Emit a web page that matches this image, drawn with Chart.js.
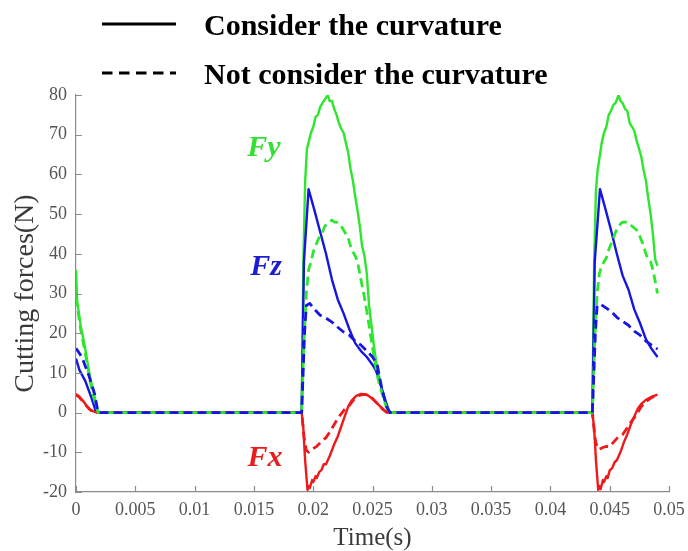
<!DOCTYPE html>
<html>
<head>
<meta charset="utf-8">
<script src="https://cdn.jsdelivr.net/npm/chart.js@4/dist/chart.umd.min.js"></script>
<style>
html,body{margin:0;padding:0;background:#ffffff;}
#c{display:block;}
</style>
</head>
<body>
<canvas id="c" width="688" height="551"></canvas>
<script>
// ---------- data (time in s, force in N) ----------
const xTickLabels = ['0','0.005','0.01','0.015','0.02','0.025','0.03','0.035','0.04','0.045','0.05'];
const yTickLabels = ['-20','-10','0','10','20','30','40','50','60','70','80'];
const seriesNames = ['Consider the curvature', 'Not consider the curvature'];
const forceNames = ['Fy', 'Fz', 'Fx'];

const fyConsider = [[0,36],[0.0001,28],[0.00039,22],[0.00078,16],[0.00118,9],[0.00157,4],[0.00186,0],
 [0.01903,0],[0.01917,38],[0.01932,58],[0.01947,66.5],[0.01961,68],[0.01981,70.5],[0.02001,72],[0.0202,74.5],[0.0204,75],[0.02059,77],[0.02079,78],[0.02123,80],[0.02138,78.5],[0.02158,78.5],[0.02177,76.5],[0.02197,75],[0.02216,73],[0.02236,71.5],[0.02256,70.5],[0.02275,68],[0.02295,65.5],[0.02314,61.5],[0.02334,58.5],[0.02354,54.5],[0.02373,51],[0.02393,47],[0.02412,42],[0.02432,39.5],[0.02452,35],[0.02471,27],[0.02491,22],[0.02511,17],[0.0253,13],[0.0255,10],[0.02569,7],[0.02589,4.5],[0.02609,2.5],[0.02628,1],[0.02648,0],
 [0.04354,0],[0.04369,38],[0.04384,56],[0.04398,61],[0.04413,64],[0.04433,68],[0.04452,70.5],[0.04472,72],[0.04492,75],[0.04511,76],[0.04531,77.5],[0.0455,78],[0.04575,80],[0.0459,78.5],[0.04609,78],[0.04629,76.5],[0.04648,76],[0.04668,73],[0.04688,72],[0.04707,71],[0.04727,68.5],[0.04747,66.5],[0.04766,64.5],[0.04786,61],[0.04805,58.5],[0.04825,54],[0.04845,50],[0.04864,45],[0.04884,38.5],[0.04903,37]];

const fyNotConsider = [[0,29],[0.00039,21],[0.00078,15],[0.00118,8],[0.00157,3],[0.00186,0],
 [0.01903,0],[0.01922,18],[0.01942,30],[0.01961,36],[0.01981,38],[0.02001,40.5],[0.0202,42],[0.0204,43.5],[0.02059,44.5],[0.02079,45.5],[0.02099,47],[0.02118,47.5],[0.02138,48],[0.02158,48.5],[0.02177,48],[0.02197,48],[0.02216,47.5],[0.02236,47],[0.02256,46],[0.02275,45],[0.02295,44],[0.02314,42],[0.02334,40.5],[0.02354,39.5],[0.02373,38],[0.02393,35],[0.02412,32],[0.02432,29],[0.02452,25.5],[0.02471,22],[0.02491,18],[0.02511,14.5],[0.0253,11],[0.0255,8],[0.02569,6],[0.02589,4],[0.02609,2],[0.02628,0.8],[0.02648,0],
 [0.04354,0],[0.04374,18],[0.04394,30],[0.04413,35],[0.04433,37],[0.04452,38],[0.04472,39],[0.04492,41],[0.04511,42.5],[0.04531,44],[0.0455,45.5],[0.0457,46.5],[0.0459,47.5],[0.04609,48],[0.04629,48],[0.04648,48],[0.04668,47.5],[0.04688,47],[0.04707,46.5],[0.04727,46],[0.04747,45],[0.04766,43.5],[0.04786,42],[0.04805,40],[0.04825,38.5],[0.04845,38],[0.04864,36],[0.04884,33],[0.04903,30]];

const fzConsider = [[0,13.6],[0.00029,10.7],[0.00078,8],[0.00127,4],[0.00167,0.3],[0.00186,0],
 [0.01903,0],[0.01922,38],[0.01961,56.3],[0.0201,51],[0.02059,45.5],[0.02108,40],[0.02158,33.5],[0.02207,28.5],[0.02256,25],[0.02305,21],[0.02354,17.5],[0.02403,15.5],[0.02452,14],[0.02501,12],[0.0253,10.5],[0.02569,7],[0.02609,3],[0.02638,0.5],[0.02648,0],
 [0.04354,0],[0.04374,38],[0.04418,56.3],[0.04462,51.5],[0.04511,46],[0.0456,40],[0.04609,34.5],[0.04658,31],[0.04707,26],[0.04756,22.5],[0.04805,18.5],[0.04854,16],[0.04903,14]];

const fzNotConsider = [[0,16.2],[0.00049,14],[0.00108,9.4],[0.00157,4.7],[0.00186,0],
 [0.01903,0],[0.01927,20],[0.01942,27],[0.01971,27.5],[0.0201,26],[0.02059,24.5],[0.02108,23.8],[0.02158,22.8],[0.02207,21.5],[0.02256,20.3],[0.02305,19.5],[0.02354,18],[0.02403,17],[0.02452,15.5],[0.02501,14],[0.0254,12],[0.02579,6],[0.02618,1.5],[0.02648,0],
 [0.04354,0],[0.04379,20],[0.04394,27],[0.04423,27.3],[0.04462,26.5],[0.04511,25.5],[0.0456,24],[0.04609,23],[0.04658,22],[0.04707,20.5],[0.04756,19.5],[0.04805,18],[0.04854,17],[0.04903,16]];

const fxConsider = [[0,4.7],[0.00029,4],[0.00059,3],[0.00088,1.8],[0.00118,0.8],[0.00147,0.3],[0.00177,0],
 [0.01903,0],[0.01917,-4],[0.01932,-12],[0.01952,-19.5],[0.01961,-18.5],[0.01971,-19],[0.01991,-17],[0.02001,-17.5],[0.0202,-16],[0.0203,-16.5],[0.0205,-15],[0.02069,-14.5],[0.02089,-13],[0.02108,-13],[0.02138,-11],[0.02158,-9.5],[0.02177,-8],[0.02207,-6],[0.02236,-3.5],[0.02265,-1],[0.02295,1.5],[0.02324,3],[0.02363,4.2],[0.02403,4.7],[0.02452,4.5],[0.02501,3.5],[0.0255,2],[0.02589,0.8],[0.02618,0.1],[0.02648,0],
 [0.04354,0],[0.04369,-4],[0.04384,-12],[0.04403,-19.5],[0.04413,-18.5],[0.04423,-19.3],[0.04443,-17],[0.04452,-17.5],[0.04472,-16],[0.04482,-16.5],[0.04501,-14.5],[0.04521,-14],[0.04541,-12.5],[0.0456,-12],[0.0459,-10],[0.04619,-7.5],[0.04648,-5.5],[0.04678,-3],[0.04707,-1],[0.04737,1],[0.04766,2.2],[0.04805,3.2],[0.04854,4],[0.04903,4.5]];

const fxNotConsider = [[0,4.5],[0.00029,3.8],[0.00059,2.8],[0.00088,1.7],[0.00118,0.7],[0.00147,0.2],[0.00177,0],
 [0.01903,0],[0.01922,-6],[0.01942,-9.5],[0.01961,-10],[0.01991,-9.2],[0.0203,-8.5],[0.02069,-7.3],[0.02108,-6.3],[0.02148,-4.5],[0.02187,-2.5],[0.02226,-0.7],[0.02265,0.8],[0.02305,1.8],[0.02344,3.3],[0.02383,4.3],[0.02422,4.6],[0.02462,4.4],[0.02501,3.5],[0.0255,2],[0.02589,0.8],[0.02618,0.1],[0.02648,0],
 [0.04354,0],[0.04374,-6],[0.04394,-9],[0.04413,-9.2],[0.04443,-8.8],[0.04472,-8.5],[0.04501,-8.6],[0.04531,-7.5],[0.0457,-6.2],[0.04609,-5.5],[0.04648,-3.8],[0.04688,-2],[0.04727,-0.5],[0.04766,1.5],[0.04805,2.8],[0.04854,3.8],[0.04903,4.4]];

// label anchors in data units (time, force)
const forceLabelAnchors = [[0.01585, 66.5], [0.01602, 36.6], [0.01594, -11.4]];

// ---------- styling ----------
const GREEN = '#2ee62e', BLUE = '#1616e0', RED = '#ec1a1a';
const labelColors = ['#34e034', '#1c1cd2', '#e81e1e'];
const AXIS = '#8c8c8c';
const SERIF = "'Liberation Serif','Times New Roman',serif";
const DASH = [9, 5];

const toPts = arr => arr.map(p => ({x: p[0], y: p[1]}));
function ds(label, data, color, dashed) {
  return {
    label, data: toPts(data), borderColor: color, backgroundColor: color,
    borderWidth: dashed ? 2.8 : 2.4, borderDash: dashed ? DASH : [],
    pointRadius: 0, pointHoverRadius: 0, tension: 0, fill: false,
    borderJoinStyle: 'round', spanGaps: true
  };
}

// index 0 is drawn on top
const datasets = [
  ds('Fz ' + seriesNames[1], fzNotConsider, BLUE, true),
  ds('Fy ' + seriesNames[1], fyNotConsider, GREEN, true),
  ds('Fx ' + seriesNames[1], fxNotConsider, RED, true),
  ds('Fx ' + seriesNames[0], fxConsider, RED, false),
  ds('Fz ' + seriesNames[0], fzConsider, BLUE, false),
  ds('Fy ' + seriesNames[0], fyConsider, GREEN, false)
];

const inwardTicks = {
  id: 'inwardTicks',
  afterDatasetsDraw(chart) {
    const {ctx, chartArea, scales} = chart;
    ctx.save();
    ctx.strokeStyle = AXIS; ctx.lineWidth = 1.2;
    ctx.beginPath();
    scales.y.ticks.forEach(t => {
      const y = Math.round(scales.y.getPixelForValue(t.value)) + 0.5;
      ctx.moveTo(chartArea.left, y); ctx.lineTo(chartArea.left + 6, y);
    });
    scales.x.ticks.forEach(t => {
      const x = Math.round(scales.x.getPixelForValue(t.value)) + 0.5;
      ctx.moveTo(x, chartArea.bottom); ctx.lineTo(x, chartArea.bottom - 6);
    });
    ctx.stroke();
    ctx.restore();
  }
};

const forceLabels = {
  id: 'forceLabels',
  afterDatasetsDraw(chart) {
    const {ctx, scales} = chart;
    ctx.save();
    ctx.font = "italic bold 30px " + SERIF;
    ctx.textAlign = 'center'; ctx.textBaseline = 'middle';
    forceNames.forEach((n, i) => {
      ctx.fillStyle = labelColors[i];
      ctx.fillText(n, scales.x.getPixelForValue(forceLabelAnchors[i][0]), scales.y.getPixelForValue(forceLabelAnchors[i][1]));
    });
    ctx.restore();
  }
};

const topLegend = {
  id: 'topLegend',
  afterDraw(chart) {
    const {ctx} = chart;
    ctx.save();
    ctx.strokeStyle = '#000'; ctx.fillStyle = '#000';
    ctx.lineWidth = 3;
    const rows = [{y: 24, dash: []}, {y: 73, dash: [10.5, 6.5]}];
    rows.forEach((r, i) => {
      ctx.setLineDash(r.dash);
      ctx.beginPath(); ctx.moveTo(102, r.y); ctx.lineTo(176, r.y); ctx.stroke();
      ctx.setLineDash([]);
      ctx.font = "bold 30px " + SERIF;
      ctx.textAlign = 'left'; ctx.textBaseline = 'alphabetic';
      ctx.fillText(seriesNames[i], 204, r.y + 11);
    });
    ctx.restore();
  }
};

new Chart(document.getElementById('c'), {
  type: 'line',
  data: {datasets},
  plugins: [inwardTicks, forceLabels, topLegend],
  options: {
    responsive: false, animation: false, devicePixelRatio: 1,
    layout: {padding: {left: 0, right: 19, top: 95, bottom: 0}},
    plugins: {legend: {display: false}, tooltip: {enabled: false}},
    scales: {
      x: {
        type: 'linear', min: 0, max: 0.05,
        grid: {display: false, drawTicks: false},
        border: {display: true, color: AXIS, width: 1.2},
        ticks: {
          stepSize: 0.005, autoSkip: false, maxRotation: 0, padding: 7,
          color: '#555', font: {family: SERIF, size: 18},
          callback: v => xTickLabels[Math.round(v / 0.005)]
        },
        title: {display: true, text: 'Time(s)', color: '#3a3a3a',
          font: {family: SERIF, size: 25, lineHeight: 1}, padding: {top: 0, bottom: 0.5}},
        afterFit: s => { s.height = 59; s.paddingLeft = 0; s.paddingRight = 0; }
      },
      y: {
        type: 'linear', min: -20, max: 80,
        grid: {display: false, drawTicks: false},
        border: {display: true, color: AXIS, width: 1.2},
        ticks: {
          stepSize: 10, padding: 9, color: '#555', font: {family: SERIF, size: 18},
          callback: v => yTickLabels[Math.round((v + 20) / 10)]
        },
        title: {display: true, text: 'Cutting forces(N)', color: '#3a3a3a',
          font: {family: SERIF, size: 28, lineHeight: 1}, padding: {top: 12, bottom: 0}},
        afterFit: s => { s.width = 76; s.paddingTop = 0; s.paddingBottom = 0; }
      }
    }
  }
});
</script>
</body>
</html>
